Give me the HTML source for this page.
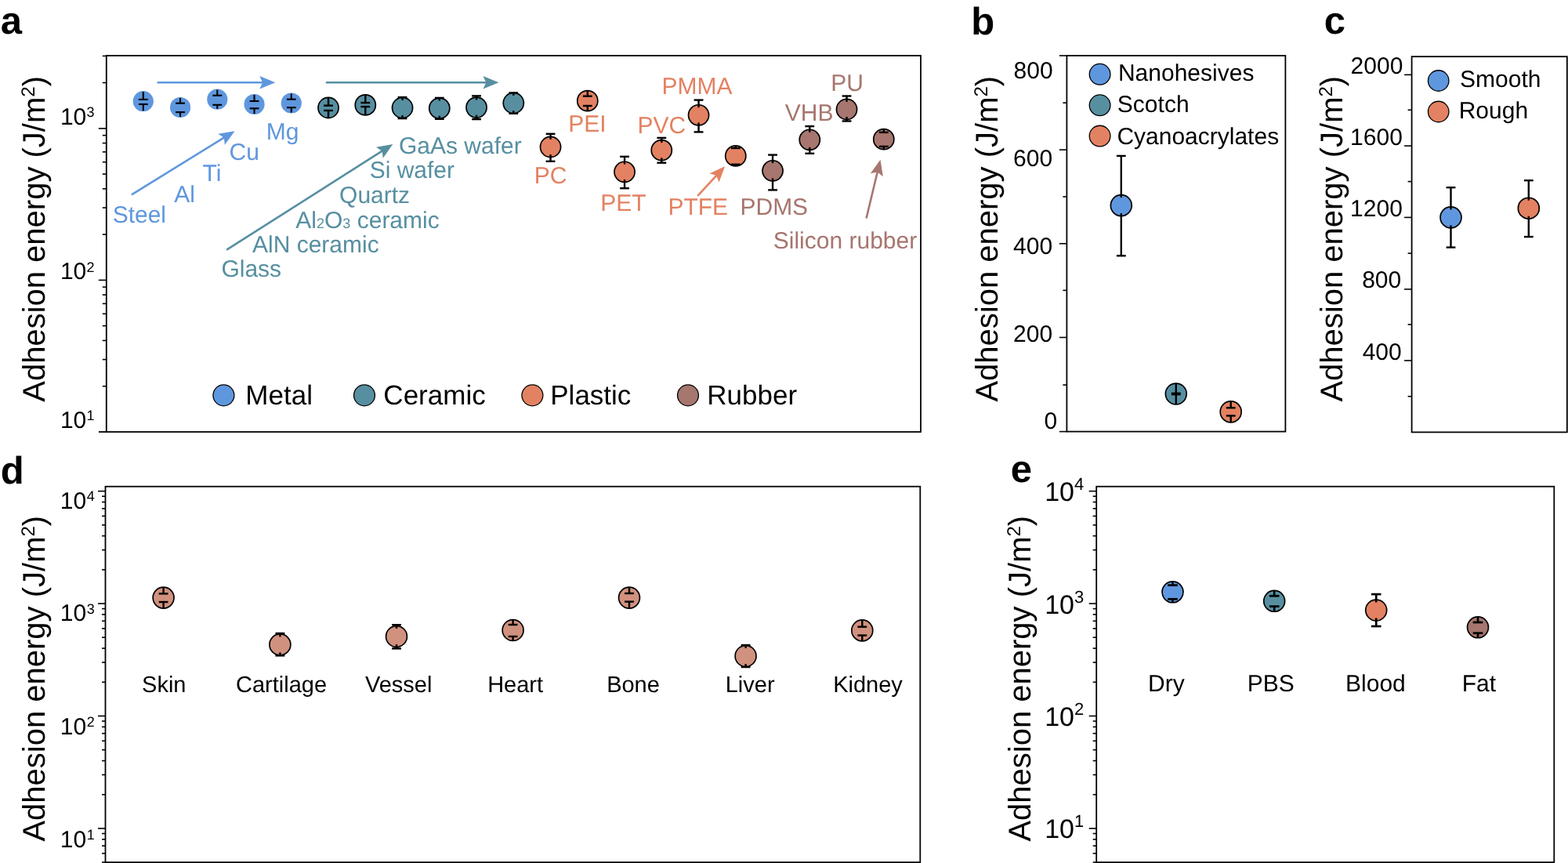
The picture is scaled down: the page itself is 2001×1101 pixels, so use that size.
<!DOCTYPE html>
<html><head><meta charset="utf-8"><style>
html,body{margin:0;padding:0;background:#fff;}
svg{display:block;}
text{font-family:"Liberation Sans",Arial,sans-serif;text-rendering:geometricPrecision;}
</style></head><body>
<svg width="2001" height="1101" viewBox="0 0 2001 1101">
<rect width="2001" height="1101" fill="#fff"/>
<rect x="135.8" y="71" width="1039.2" height="480" fill="none" stroke="#000" stroke-width="1.8"/>
<line x1="125.80" y1="357.40" x2="135.80" y2="357.40" stroke="#000" stroke-width="1.6" stroke-linecap="butt"/>
<line x1="125.80" y1="163.90" x2="135.80" y2="163.90" stroke="#000" stroke-width="1.6" stroke-linecap="butt"/>
<line x1="126.00" y1="551.00" x2="135.80" y2="551.00" stroke="#000" stroke-width="1.8" stroke-linecap="butt"/>
<line x1="130.80" y1="492.72" x2="135.80" y2="492.72" stroke="#000" stroke-width="1.6" stroke-linecap="butt"/>
<line x1="130.80" y1="458.63" x2="135.80" y2="458.63" stroke="#000" stroke-width="1.6" stroke-linecap="butt"/>
<line x1="130.80" y1="434.44" x2="135.80" y2="434.44" stroke="#000" stroke-width="1.6" stroke-linecap="butt"/>
<line x1="130.80" y1="415.68" x2="135.80" y2="415.68" stroke="#000" stroke-width="1.6" stroke-linecap="butt"/>
<line x1="130.80" y1="400.35" x2="135.80" y2="400.35" stroke="#000" stroke-width="1.6" stroke-linecap="butt"/>
<line x1="130.80" y1="387.39" x2="135.80" y2="387.39" stroke="#000" stroke-width="1.6" stroke-linecap="butt"/>
<line x1="130.80" y1="376.16" x2="135.80" y2="376.16" stroke="#000" stroke-width="1.6" stroke-linecap="butt"/>
<line x1="130.80" y1="366.26" x2="135.80" y2="366.26" stroke="#000" stroke-width="1.6" stroke-linecap="butt"/>
<line x1="130.80" y1="299.12" x2="135.80" y2="299.12" stroke="#000" stroke-width="1.6" stroke-linecap="butt"/>
<line x1="130.80" y1="265.03" x2="135.80" y2="265.03" stroke="#000" stroke-width="1.6" stroke-linecap="butt"/>
<line x1="130.80" y1="240.84" x2="135.80" y2="240.84" stroke="#000" stroke-width="1.6" stroke-linecap="butt"/>
<line x1="130.80" y1="222.08" x2="135.80" y2="222.08" stroke="#000" stroke-width="1.6" stroke-linecap="butt"/>
<line x1="130.80" y1="206.75" x2="135.80" y2="206.75" stroke="#000" stroke-width="1.6" stroke-linecap="butt"/>
<line x1="130.80" y1="193.79" x2="135.80" y2="193.79" stroke="#000" stroke-width="1.6" stroke-linecap="butt"/>
<line x1="130.80" y1="182.56" x2="135.80" y2="182.56" stroke="#000" stroke-width="1.6" stroke-linecap="butt"/>
<line x1="130.80" y1="172.66" x2="135.80" y2="172.66" stroke="#000" stroke-width="1.6" stroke-linecap="butt"/>
<line x1="130.80" y1="105.52" x2="135.80" y2="105.52" stroke="#000" stroke-width="1.6" stroke-linecap="butt"/>
<line x1="130.80" y1="71.43" x2="135.80" y2="71.43" stroke="#000" stroke-width="1.6" stroke-linecap="butt"/>
<circle cx="182.80" cy="129.20" r="13.10" fill="#5F97DE"/>
<line x1="182.80" y1="126.90" x2="182.80" y2="117.10" stroke="#000" stroke-width="2.1" stroke-linecap="butt"/>
<line x1="176.90" y1="126.90" x2="188.70" y2="126.90" stroke="#000" stroke-width="2.1" stroke-linecap="butt"/>
<line x1="182.80" y1="133.00" x2="182.80" y2="141.30" stroke="#000" stroke-width="2.1" stroke-linecap="butt"/>
<line x1="176.90" y1="133.00" x2="188.70" y2="133.00" stroke="#000" stroke-width="2.1" stroke-linecap="butt"/>
<circle cx="230.05" cy="137.00" r="13.10" fill="#5F97DE"/>
<line x1="230.05" y1="131.70" x2="230.05" y2="124.90" stroke="#000" stroke-width="2.1" stroke-linecap="butt"/>
<line x1="224.15" y1="131.70" x2="235.95" y2="131.70" stroke="#000" stroke-width="2.1" stroke-linecap="butt"/>
<line x1="230.05" y1="143.10" x2="230.05" y2="149.10" stroke="#000" stroke-width="2.1" stroke-linecap="butt"/>
<line x1="224.15" y1="143.10" x2="235.95" y2="143.10" stroke="#000" stroke-width="2.1" stroke-linecap="butt"/>
<circle cx="277.30" cy="126.70" r="13.10" fill="#5F97DE"/>
<line x1="277.30" y1="121.80" x2="277.30" y2="114.60" stroke="#000" stroke-width="2.1" stroke-linecap="butt"/>
<line x1="271.40" y1="121.80" x2="283.20" y2="121.80" stroke="#000" stroke-width="2.1" stroke-linecap="butt"/>
<line x1="277.30" y1="133.80" x2="277.30" y2="138.80" stroke="#000" stroke-width="2.1" stroke-linecap="butt"/>
<line x1="271.40" y1="133.80" x2="283.20" y2="133.80" stroke="#000" stroke-width="2.1" stroke-linecap="butt"/>
<circle cx="324.55" cy="133.00" r="13.10" fill="#5F97DE"/>
<line x1="324.55" y1="129.00" x2="324.55" y2="120.90" stroke="#000" stroke-width="2.1" stroke-linecap="butt"/>
<line x1="318.65" y1="129.00" x2="330.45" y2="129.00" stroke="#000" stroke-width="2.1" stroke-linecap="butt"/>
<line x1="324.55" y1="138.30" x2="324.55" y2="145.10" stroke="#000" stroke-width="2.1" stroke-linecap="butt"/>
<line x1="318.65" y1="138.30" x2="330.45" y2="138.30" stroke="#000" stroke-width="2.1" stroke-linecap="butt"/>
<circle cx="371.80" cy="131.50" r="13.10" fill="#5F97DE"/>
<line x1="371.80" y1="126.70" x2="371.80" y2="119.40" stroke="#000" stroke-width="2.1" stroke-linecap="butt"/>
<line x1="365.90" y1="126.70" x2="377.70" y2="126.70" stroke="#000" stroke-width="2.1" stroke-linecap="butt"/>
<line x1="371.80" y1="137.20" x2="371.80" y2="143.60" stroke="#000" stroke-width="2.1" stroke-linecap="butt"/>
<line x1="365.90" y1="137.20" x2="377.70" y2="137.20" stroke="#000" stroke-width="2.1" stroke-linecap="butt"/>
<circle cx="419.05" cy="137.50" r="13.05" fill="#578FA1" stroke="#000" stroke-width="1.7"/>
<line x1="419.05" y1="134.70" x2="419.05" y2="124.60" stroke="#000" stroke-width="2.4" stroke-linecap="butt"/>
<line x1="413.15" y1="134.70" x2="424.95" y2="134.70" stroke="#000" stroke-width="2.4" stroke-linecap="butt"/>
<line x1="419.05" y1="141.00" x2="419.05" y2="150.40" stroke="#000" stroke-width="2.4" stroke-linecap="butt"/>
<line x1="413.15" y1="141.00" x2="424.95" y2="141.00" stroke="#000" stroke-width="2.4" stroke-linecap="butt"/>
<circle cx="466.30" cy="133.90" r="13.05" fill="#578FA1" stroke="#000" stroke-width="1.7"/>
<line x1="466.30" y1="131.10" x2="466.30" y2="121.00" stroke="#000" stroke-width="2.4" stroke-linecap="butt"/>
<line x1="460.40" y1="131.10" x2="472.20" y2="131.10" stroke="#000" stroke-width="2.4" stroke-linecap="butt"/>
<line x1="466.30" y1="136.10" x2="466.30" y2="146.80" stroke="#000" stroke-width="2.4" stroke-linecap="butt"/>
<line x1="460.40" y1="136.10" x2="472.20" y2="136.10" stroke="#000" stroke-width="2.4" stroke-linecap="butt"/>
<circle cx="513.55" cy="137.50" r="13.05" fill="#578FA1" stroke="#000" stroke-width="1.7"/>
<line x1="513.55" y1="124.10" x2="513.55" y2="127.90" stroke="#000" stroke-width="2.4" stroke-linecap="butt"/>
<line x1="507.65" y1="124.10" x2="519.45" y2="124.10" stroke="#000" stroke-width="2.4" stroke-linecap="butt"/>
<line x1="513.55" y1="151.10" x2="513.55" y2="147.10" stroke="#000" stroke-width="2.4" stroke-linecap="butt"/>
<line x1="507.65" y1="151.10" x2="519.45" y2="151.10" stroke="#000" stroke-width="2.4" stroke-linecap="butt"/>
<circle cx="560.80" cy="138.10" r="13.05" fill="#578FA1" stroke="#000" stroke-width="1.7"/>
<line x1="560.80" y1="124.90" x2="560.80" y2="128.50" stroke="#000" stroke-width="2.4" stroke-linecap="butt"/>
<line x1="554.90" y1="124.90" x2="566.70" y2="124.90" stroke="#000" stroke-width="2.4" stroke-linecap="butt"/>
<line x1="560.80" y1="151.80" x2="560.80" y2="147.70" stroke="#000" stroke-width="2.4" stroke-linecap="butt"/>
<line x1="554.90" y1="151.80" x2="566.70" y2="151.80" stroke="#000" stroke-width="2.4" stroke-linecap="butt"/>
<circle cx="608.05" cy="137.10" r="13.05" fill="#578FA1" stroke="#000" stroke-width="1.7"/>
<line x1="608.05" y1="122.40" x2="608.05" y2="127.50" stroke="#000" stroke-width="2.4" stroke-linecap="butt"/>
<line x1="602.15" y1="122.40" x2="613.95" y2="122.40" stroke="#000" stroke-width="2.4" stroke-linecap="butt"/>
<line x1="608.05" y1="152.10" x2="608.05" y2="146.70" stroke="#000" stroke-width="2.4" stroke-linecap="butt"/>
<line x1="602.15" y1="152.10" x2="613.95" y2="152.10" stroke="#000" stroke-width="2.4" stroke-linecap="butt"/>
<circle cx="655.30" cy="131.50" r="13.05" fill="#578FA1" stroke="#000" stroke-width="1.7"/>
<line x1="655.30" y1="118.50" x2="655.30" y2="121.90" stroke="#000" stroke-width="2.4" stroke-linecap="butt"/>
<line x1="649.40" y1="118.50" x2="661.20" y2="118.50" stroke="#000" stroke-width="2.4" stroke-linecap="butt"/>
<line x1="655.30" y1="144.80" x2="655.30" y2="141.10" stroke="#000" stroke-width="2.4" stroke-linecap="butt"/>
<line x1="649.40" y1="144.80" x2="661.20" y2="144.80" stroke="#000" stroke-width="2.4" stroke-linecap="butt"/>
<circle cx="702.55" cy="187.50" r="13.05" fill="#E38262" stroke="#000" stroke-width="1.7"/>
<line x1="702.55" y1="170.80" x2="702.55" y2="177.90" stroke="#000" stroke-width="2.4" stroke-linecap="butt"/>
<line x1="696.65" y1="170.80" x2="708.45" y2="170.80" stroke="#000" stroke-width="2.4" stroke-linecap="butt"/>
<line x1="702.55" y1="205.80" x2="702.55" y2="197.10" stroke="#000" stroke-width="2.4" stroke-linecap="butt"/>
<line x1="696.65" y1="205.80" x2="708.45" y2="205.80" stroke="#000" stroke-width="2.4" stroke-linecap="butt"/>
<circle cx="749.80" cy="128.70" r="13.05" fill="#E38262" stroke="#000" stroke-width="1.7"/>
<line x1="749.80" y1="122.70" x2="749.80" y2="115.80" stroke="#000" stroke-width="2.4" stroke-linecap="butt"/>
<line x1="743.90" y1="122.70" x2="755.70" y2="122.70" stroke="#000" stroke-width="2.4" stroke-linecap="butt"/>
<line x1="749.80" y1="135.00" x2="749.80" y2="141.60" stroke="#000" stroke-width="2.4" stroke-linecap="butt"/>
<line x1="743.90" y1="135.00" x2="755.70" y2="135.00" stroke="#000" stroke-width="2.4" stroke-linecap="butt"/>
<circle cx="797.05" cy="219.30" r="13.05" fill="#E38262" stroke="#000" stroke-width="1.7"/>
<line x1="797.05" y1="199.80" x2="797.05" y2="209.70" stroke="#000" stroke-width="2.4" stroke-linecap="butt"/>
<line x1="791.15" y1="199.80" x2="802.95" y2="199.80" stroke="#000" stroke-width="2.4" stroke-linecap="butt"/>
<line x1="797.05" y1="240.20" x2="797.05" y2="228.90" stroke="#000" stroke-width="2.4" stroke-linecap="butt"/>
<line x1="791.15" y1="240.20" x2="802.95" y2="240.20" stroke="#000" stroke-width="2.4" stroke-linecap="butt"/>
<circle cx="844.30" cy="191.70" r="13.05" fill="#E38262" stroke="#000" stroke-width="1.7"/>
<line x1="844.30" y1="175.90" x2="844.30" y2="182.10" stroke="#000" stroke-width="2.4" stroke-linecap="butt"/>
<line x1="838.40" y1="175.90" x2="850.20" y2="175.90" stroke="#000" stroke-width="2.4" stroke-linecap="butt"/>
<line x1="844.30" y1="207.70" x2="844.30" y2="201.30" stroke="#000" stroke-width="2.4" stroke-linecap="butt"/>
<line x1="838.40" y1="207.70" x2="850.20" y2="207.70" stroke="#000" stroke-width="2.4" stroke-linecap="butt"/>
<circle cx="891.55" cy="146.80" r="13.05" fill="#E38262" stroke="#000" stroke-width="1.7"/>
<line x1="891.55" y1="127.60" x2="891.55" y2="137.20" stroke="#000" stroke-width="2.4" stroke-linecap="butt"/>
<line x1="885.65" y1="127.60" x2="897.45" y2="127.60" stroke="#000" stroke-width="2.4" stroke-linecap="butt"/>
<line x1="891.55" y1="168.40" x2="891.55" y2="156.40" stroke="#000" stroke-width="2.4" stroke-linecap="butt"/>
<line x1="885.65" y1="168.40" x2="897.45" y2="168.40" stroke="#000" stroke-width="2.4" stroke-linecap="butt"/>
<circle cx="938.80" cy="198.90" r="13.05" fill="#E38262" stroke="#000" stroke-width="1.7"/>
<line x1="938.80" y1="189.00" x2="938.80" y2="186.00" stroke="#000" stroke-width="2.4" stroke-linecap="butt"/>
<line x1="932.90" y1="189.00" x2="944.70" y2="189.00" stroke="#000" stroke-width="2.4" stroke-linecap="butt"/>
<line x1="938.80" y1="209.80" x2="938.80" y2="211.80" stroke="#000" stroke-width="2.4" stroke-linecap="butt"/>
<line x1="932.90" y1="209.80" x2="944.70" y2="209.80" stroke="#000" stroke-width="2.4" stroke-linecap="butt"/>
<circle cx="986.05" cy="217.80" r="13.05" fill="#A6766F" stroke="#000" stroke-width="1.7"/>
<line x1="986.05" y1="197.60" x2="986.05" y2="208.20" stroke="#000" stroke-width="2.4" stroke-linecap="butt"/>
<line x1="980.15" y1="197.60" x2="991.95" y2="197.60" stroke="#000" stroke-width="2.4" stroke-linecap="butt"/>
<line x1="986.05" y1="242.40" x2="986.05" y2="227.40" stroke="#000" stroke-width="2.4" stroke-linecap="butt"/>
<line x1="980.15" y1="242.40" x2="991.95" y2="242.40" stroke="#000" stroke-width="2.4" stroke-linecap="butt"/>
<circle cx="1033.30" cy="178.30" r="13.05" fill="#A6766F" stroke="#000" stroke-width="1.7"/>
<line x1="1033.30" y1="161.10" x2="1033.30" y2="168.70" stroke="#000" stroke-width="2.4" stroke-linecap="butt"/>
<line x1="1027.40" y1="161.10" x2="1039.20" y2="161.10" stroke="#000" stroke-width="2.4" stroke-linecap="butt"/>
<line x1="1033.30" y1="195.80" x2="1033.30" y2="187.90" stroke="#000" stroke-width="2.4" stroke-linecap="butt"/>
<line x1="1027.40" y1="195.80" x2="1039.20" y2="195.80" stroke="#000" stroke-width="2.4" stroke-linecap="butt"/>
<circle cx="1080.55" cy="139.50" r="13.05" fill="#A6766F" stroke="#000" stroke-width="1.7"/>
<line x1="1080.55" y1="122.50" x2="1080.55" y2="129.90" stroke="#000" stroke-width="2.4" stroke-linecap="butt"/>
<line x1="1074.65" y1="122.50" x2="1086.45" y2="122.50" stroke="#000" stroke-width="2.4" stroke-linecap="butt"/>
<line x1="1080.55" y1="154.50" x2="1080.55" y2="149.10" stroke="#000" stroke-width="2.4" stroke-linecap="butt"/>
<line x1="1074.65" y1="154.50" x2="1086.45" y2="154.50" stroke="#000" stroke-width="2.4" stroke-linecap="butt"/>
<circle cx="1127.80" cy="177.70" r="13.05" fill="#A6766F" stroke="#000" stroke-width="1.7"/>
<line x1="1127.80" y1="168.90" x2="1127.80" y2="164.80" stroke="#000" stroke-width="2.4" stroke-linecap="butt"/>
<line x1="1121.90" y1="168.90" x2="1133.70" y2="168.90" stroke="#000" stroke-width="2.4" stroke-linecap="butt"/>
<line x1="1127.80" y1="186.90" x2="1127.80" y2="190.60" stroke="#000" stroke-width="2.4" stroke-linecap="butt"/>
<line x1="1121.90" y1="186.90" x2="1133.70" y2="186.90" stroke="#000" stroke-width="2.4" stroke-linecap="butt"/>
<line x1="201.70" y1="105.20" x2="335.10" y2="105.20" stroke="#5F97DE" stroke-width="2.6" stroke-linecap="round"/>
<polygon points="351.30,105.20 331.30,113.40 335.10,105.20 331.30,97.00" fill="#5F97DE"/>
<line x1="417.00" y1="105.20" x2="620.30" y2="105.20" stroke="#578FA1" stroke-width="2.6" stroke-linecap="round"/>
<polygon points="636.50,105.20 616.50,113.40 620.30,105.20 616.50,97.00" fill="#578FA1"/>
<line x1="168.80" y1="247.80" x2="285.81" y2="175.70" stroke="#5F97DE" stroke-width="2.6" stroke-linecap="round"/>
<polygon points="299.60,167.20 286.87,184.67 285.81,175.70 278.27,170.71" fill="#5F97DE"/>
<line x1="290.10" y1="318.20" x2="487.63" y2="192.69" stroke="#578FA1" stroke-width="2.6" stroke-linecap="round"/>
<polygon points="501.30,184.00 488.82,201.65 487.63,192.69 480.02,187.81" fill="#578FA1"/>
<line x1="891.00" y1="249.20" x2="914.12" y2="224.11" stroke="#E38262" stroke-width="2.6" stroke-linecap="round"/>
<polygon points="925.10,212.20 917.58,232.46 914.12,224.11 905.52,221.35" fill="#E38262"/>
<line x1="1105.80" y1="277.50" x2="1119.72" y2="219.55" stroke="#A6766F" stroke-width="2.6" stroke-linecap="round"/>
<polygon points="1123.50,203.80 1126.80,225.16 1119.72,219.55 1110.86,221.33" fill="#A6766F"/>
<circle cx="285.40" cy="504.40" r="13.45" fill="#5F97DE" stroke="#000" stroke-width="1.3"/>
<circle cx="465.00" cy="504.40" r="13.45" fill="#578FA1" stroke="#000" stroke-width="1.3"/>
<circle cx="679.40" cy="504.40" r="13.45" fill="#E38262" stroke="#000" stroke-width="1.3"/>
<circle cx="878.00" cy="504.40" r="13.45" fill="#A6766F" stroke="#000" stroke-width="1.3"/>
<rect x="1361.4" y="71" width="279.0" height="479.6" fill="none" stroke="#000" stroke-width="1.8"/>
<line x1="1351.90" y1="71.00" x2="1361.40" y2="71.00" stroke="#000" stroke-width="1.6" stroke-linecap="butt"/>
<line x1="1351.90" y1="191.10" x2="1361.40" y2="191.10" stroke="#000" stroke-width="1.6" stroke-linecap="butt"/>
<line x1="1351.90" y1="310.80" x2="1361.40" y2="310.80" stroke="#000" stroke-width="1.6" stroke-linecap="butt"/>
<line x1="1351.90" y1="430.50" x2="1361.40" y2="430.50" stroke="#000" stroke-width="1.6" stroke-linecap="butt"/>
<line x1="1351.90" y1="550.60" x2="1361.40" y2="550.60" stroke="#000" stroke-width="1.6" stroke-linecap="butt"/>
<line x1="1356.40" y1="131.20" x2="1361.40" y2="131.20" stroke="#000" stroke-width="1.6" stroke-linecap="butt"/>
<line x1="1356.40" y1="251.00" x2="1361.40" y2="251.00" stroke="#000" stroke-width="1.6" stroke-linecap="butt"/>
<line x1="1356.40" y1="370.40" x2="1361.40" y2="370.40" stroke="#000" stroke-width="1.6" stroke-linecap="butt"/>
<line x1="1356.40" y1="491.10" x2="1361.40" y2="491.10" stroke="#000" stroke-width="1.6" stroke-linecap="butt"/>
<circle cx="1403.60" cy="94.80" r="13.35" fill="#5F97DE" stroke="#000" stroke-width="1.3"/>
<circle cx="1403.60" cy="134.30" r="13.35" fill="#578FA1" stroke="#000" stroke-width="1.3"/>
<circle cx="1403.60" cy="173.60" r="13.35" fill="#E38262" stroke="#000" stroke-width="1.3"/>
<circle cx="1430.80" cy="262.10" r="13.45" fill="#5F97DE" stroke="#000" stroke-width="1.7"/>
<line x1="1430.80" y1="198.90" x2="1430.80" y2="252.10" stroke="#000" stroke-width="2.4" stroke-linecap="butt"/>
<line x1="1424.90" y1="198.90" x2="1436.70" y2="198.90" stroke="#000" stroke-width="2.4" stroke-linecap="butt"/>
<line x1="1430.80" y1="326.30" x2="1430.80" y2="272.10" stroke="#000" stroke-width="2.4" stroke-linecap="butt"/>
<line x1="1424.90" y1="326.30" x2="1436.70" y2="326.30" stroke="#000" stroke-width="2.4" stroke-linecap="butt"/>
<circle cx="1500.80" cy="502.50" r="13.45" fill="#578FA1" stroke="#000" stroke-width="1.7"/>
<line x1="1500.80" y1="501.80" x2="1500.80" y2="489.20" stroke="#000" stroke-width="2.4" stroke-linecap="butt"/>
<line x1="1494.90" y1="501.80" x2="1506.70" y2="501.80" stroke="#000" stroke-width="2.4" stroke-linecap="butt"/>
<line x1="1500.80" y1="503.20" x2="1500.80" y2="515.80" stroke="#000" stroke-width="2.4" stroke-linecap="butt"/>
<line x1="1494.90" y1="503.20" x2="1506.70" y2="503.20" stroke="#000" stroke-width="2.4" stroke-linecap="butt"/>
<circle cx="1570.70" cy="525.40" r="13.45" fill="#E38262" stroke="#000" stroke-width="1.7"/>
<line x1="1570.70" y1="520.30" x2="1570.70" y2="512.10" stroke="#000" stroke-width="2.4" stroke-linecap="butt"/>
<line x1="1564.80" y1="520.30" x2="1576.60" y2="520.30" stroke="#000" stroke-width="2.4" stroke-linecap="butt"/>
<line x1="1570.70" y1="530.40" x2="1570.70" y2="538.70" stroke="#000" stroke-width="2.4" stroke-linecap="butt"/>
<line x1="1564.80" y1="530.40" x2="1576.60" y2="530.40" stroke="#000" stroke-width="2.4" stroke-linecap="butt"/>
<rect x="1801.6" y="72.2" width="198.20000000000005" height="479.2" fill="none" stroke="#000" stroke-width="1.8"/>
<line x1="1792.10" y1="95.40" x2="1801.60" y2="95.40" stroke="#000" stroke-width="1.6" stroke-linecap="butt"/>
<line x1="1792.10" y1="186.10" x2="1801.60" y2="186.10" stroke="#000" stroke-width="1.6" stroke-linecap="butt"/>
<line x1="1792.10" y1="277.40" x2="1801.60" y2="277.40" stroke="#000" stroke-width="1.6" stroke-linecap="butt"/>
<line x1="1792.10" y1="369.00" x2="1801.60" y2="369.00" stroke="#000" stroke-width="1.6" stroke-linecap="butt"/>
<line x1="1792.10" y1="460.00" x2="1801.60" y2="460.00" stroke="#000" stroke-width="1.6" stroke-linecap="butt"/>
<line x1="1796.60" y1="140.30" x2="1801.60" y2="140.30" stroke="#000" stroke-width="1.6" stroke-linecap="butt"/>
<line x1="1796.60" y1="231.60" x2="1801.60" y2="231.60" stroke="#000" stroke-width="1.6" stroke-linecap="butt"/>
<line x1="1796.60" y1="323.20" x2="1801.60" y2="323.20" stroke="#000" stroke-width="1.6" stroke-linecap="butt"/>
<line x1="1796.60" y1="414.00" x2="1801.60" y2="414.00" stroke="#000" stroke-width="1.6" stroke-linecap="butt"/>
<line x1="1796.60" y1="505.70" x2="1801.60" y2="505.70" stroke="#000" stroke-width="1.6" stroke-linecap="butt"/>
<circle cx="1835.70" cy="103.00" r="13.25" fill="#5F97DE" stroke="#000" stroke-width="1.3"/>
<circle cx="1835.70" cy="142.50" r="13.25" fill="#E38262" stroke="#000" stroke-width="1.3"/>
<circle cx="1851.50" cy="277.40" r="13.45" fill="#5F97DE" stroke="#000" stroke-width="1.7"/>
<line x1="1851.50" y1="239.20" x2="1851.50" y2="267.40" stroke="#000" stroke-width="2.4" stroke-linecap="butt"/>
<line x1="1845.60" y1="239.20" x2="1857.40" y2="239.20" stroke="#000" stroke-width="2.4" stroke-linecap="butt"/>
<line x1="1851.50" y1="315.60" x2="1851.50" y2="287.40" stroke="#000" stroke-width="2.4" stroke-linecap="butt"/>
<line x1="1845.60" y1="315.60" x2="1857.40" y2="315.60" stroke="#000" stroke-width="2.4" stroke-linecap="butt"/>
<circle cx="1950.80" cy="265.70" r="13.45" fill="#E38262" stroke="#000" stroke-width="1.7"/>
<line x1="1950.80" y1="230.20" x2="1950.80" y2="255.70" stroke="#000" stroke-width="2.4" stroke-linecap="butt"/>
<line x1="1944.90" y1="230.20" x2="1956.70" y2="230.20" stroke="#000" stroke-width="2.4" stroke-linecap="butt"/>
<line x1="1950.80" y1="302.10" x2="1950.80" y2="275.70" stroke="#000" stroke-width="2.4" stroke-linecap="butt"/>
<line x1="1944.90" y1="302.10" x2="1956.70" y2="302.10" stroke="#000" stroke-width="2.4" stroke-linecap="butt"/>
<rect x="134.5" y="620.7" width="1039.8" height="479.39999999999986" fill="none" stroke="#000" stroke-width="1.8"/>
<line x1="125.00" y1="1056.90" x2="134.50" y2="1056.90" stroke="#000" stroke-width="1.6" stroke-linecap="butt"/>
<line x1="125.00" y1="913.47" x2="134.50" y2="913.47" stroke="#000" stroke-width="1.6" stroke-linecap="butt"/>
<line x1="125.00" y1="770.04" x2="134.50" y2="770.04" stroke="#000" stroke-width="1.6" stroke-linecap="butt"/>
<line x1="125.00" y1="626.61" x2="134.50" y2="626.61" stroke="#000" stroke-width="1.6" stroke-linecap="butt"/>
<line x1="130.00" y1="1100.08" x2="134.50" y2="1100.08" stroke="#000" stroke-width="1.6" stroke-linecap="butt"/>
<line x1="130.00" y1="1088.72" x2="134.50" y2="1088.72" stroke="#000" stroke-width="1.6" stroke-linecap="butt"/>
<line x1="130.00" y1="1079.12" x2="134.50" y2="1079.12" stroke="#000" stroke-width="1.6" stroke-linecap="butt"/>
<line x1="130.00" y1="1070.80" x2="134.50" y2="1070.80" stroke="#000" stroke-width="1.6" stroke-linecap="butt"/>
<line x1="130.00" y1="1063.46" x2="134.50" y2="1063.46" stroke="#000" stroke-width="1.6" stroke-linecap="butt"/>
<line x1="130.00" y1="1013.72" x2="134.50" y2="1013.72" stroke="#000" stroke-width="1.6" stroke-linecap="butt"/>
<line x1="130.00" y1="988.47" x2="134.50" y2="988.47" stroke="#000" stroke-width="1.6" stroke-linecap="butt"/>
<line x1="130.00" y1="970.55" x2="134.50" y2="970.55" stroke="#000" stroke-width="1.6" stroke-linecap="butt"/>
<line x1="130.00" y1="956.65" x2="134.50" y2="956.65" stroke="#000" stroke-width="1.6" stroke-linecap="butt"/>
<line x1="130.00" y1="945.29" x2="134.50" y2="945.29" stroke="#000" stroke-width="1.6" stroke-linecap="butt"/>
<line x1="130.00" y1="935.69" x2="134.50" y2="935.69" stroke="#000" stroke-width="1.6" stroke-linecap="butt"/>
<line x1="130.00" y1="927.37" x2="134.50" y2="927.37" stroke="#000" stroke-width="1.6" stroke-linecap="butt"/>
<line x1="130.00" y1="920.03" x2="134.50" y2="920.03" stroke="#000" stroke-width="1.6" stroke-linecap="butt"/>
<line x1="130.00" y1="870.29" x2="134.50" y2="870.29" stroke="#000" stroke-width="1.6" stroke-linecap="butt"/>
<line x1="130.00" y1="845.04" x2="134.50" y2="845.04" stroke="#000" stroke-width="1.6" stroke-linecap="butt"/>
<line x1="130.00" y1="827.12" x2="134.50" y2="827.12" stroke="#000" stroke-width="1.6" stroke-linecap="butt"/>
<line x1="130.00" y1="813.22" x2="134.50" y2="813.22" stroke="#000" stroke-width="1.6" stroke-linecap="butt"/>
<line x1="130.00" y1="801.86" x2="134.50" y2="801.86" stroke="#000" stroke-width="1.6" stroke-linecap="butt"/>
<line x1="130.00" y1="792.26" x2="134.50" y2="792.26" stroke="#000" stroke-width="1.6" stroke-linecap="butt"/>
<line x1="130.00" y1="783.94" x2="134.50" y2="783.94" stroke="#000" stroke-width="1.6" stroke-linecap="butt"/>
<line x1="130.00" y1="776.60" x2="134.50" y2="776.60" stroke="#000" stroke-width="1.6" stroke-linecap="butt"/>
<line x1="130.00" y1="726.86" x2="134.50" y2="726.86" stroke="#000" stroke-width="1.6" stroke-linecap="butt"/>
<line x1="130.00" y1="701.61" x2="134.50" y2="701.61" stroke="#000" stroke-width="1.6" stroke-linecap="butt"/>
<line x1="130.00" y1="683.69" x2="134.50" y2="683.69" stroke="#000" stroke-width="1.6" stroke-linecap="butt"/>
<line x1="130.00" y1="669.79" x2="134.50" y2="669.79" stroke="#000" stroke-width="1.6" stroke-linecap="butt"/>
<line x1="130.00" y1="658.43" x2="134.50" y2="658.43" stroke="#000" stroke-width="1.6" stroke-linecap="butt"/>
<line x1="130.00" y1="648.83" x2="134.50" y2="648.83" stroke="#000" stroke-width="1.6" stroke-linecap="butt"/>
<line x1="130.00" y1="640.51" x2="134.50" y2="640.51" stroke="#000" stroke-width="1.6" stroke-linecap="butt"/>
<line x1="130.00" y1="633.17" x2="134.50" y2="633.17" stroke="#000" stroke-width="1.6" stroke-linecap="butt"/>
<circle cx="208.60" cy="762.60" r="13.45" fill="#D0917E" stroke="#000" stroke-width="1.7"/>
<line x1="208.60" y1="757.40" x2="208.60" y2="749.30" stroke="#000" stroke-width="2.4" stroke-linecap="butt"/>
<line x1="202.70" y1="757.40" x2="214.50" y2="757.40" stroke="#000" stroke-width="2.4" stroke-linecap="butt"/>
<line x1="208.60" y1="768.00" x2="208.60" y2="775.90" stroke="#000" stroke-width="2.4" stroke-linecap="butt"/>
<line x1="202.70" y1="768.00" x2="214.50" y2="768.00" stroke="#000" stroke-width="2.4" stroke-linecap="butt"/>
<circle cx="357.40" cy="822.40" r="13.45" fill="#D0917E" stroke="#000" stroke-width="1.7"/>
<line x1="357.40" y1="808.00" x2="357.40" y2="812.40" stroke="#000" stroke-width="2.4" stroke-linecap="butt"/>
<line x1="351.50" y1="808.00" x2="363.30" y2="808.00" stroke="#000" stroke-width="2.4" stroke-linecap="butt"/>
<line x1="357.40" y1="836.40" x2="357.40" y2="832.40" stroke="#000" stroke-width="2.4" stroke-linecap="butt"/>
<line x1="351.50" y1="836.40" x2="363.30" y2="836.40" stroke="#000" stroke-width="2.4" stroke-linecap="butt"/>
<circle cx="506.00" cy="812.00" r="13.45" fill="#D0917E" stroke="#000" stroke-width="1.7"/>
<line x1="506.00" y1="797.20" x2="506.00" y2="802.00" stroke="#000" stroke-width="2.4" stroke-linecap="butt"/>
<line x1="500.10" y1="797.20" x2="511.90" y2="797.20" stroke="#000" stroke-width="2.4" stroke-linecap="butt"/>
<line x1="506.00" y1="827.40" x2="506.00" y2="822.00" stroke="#000" stroke-width="2.4" stroke-linecap="butt"/>
<line x1="500.10" y1="827.40" x2="511.90" y2="827.40" stroke="#000" stroke-width="2.4" stroke-linecap="butt"/>
<circle cx="654.60" cy="804.00" r="13.45" fill="#D0917E" stroke="#000" stroke-width="1.7"/>
<line x1="654.60" y1="797.00" x2="654.60" y2="790.70" stroke="#000" stroke-width="2.4" stroke-linecap="butt"/>
<line x1="648.70" y1="797.00" x2="660.50" y2="797.00" stroke="#000" stroke-width="2.4" stroke-linecap="butt"/>
<line x1="654.60" y1="812.00" x2="654.60" y2="817.30" stroke="#000" stroke-width="2.4" stroke-linecap="butt"/>
<line x1="648.70" y1="812.00" x2="660.50" y2="812.00" stroke="#000" stroke-width="2.4" stroke-linecap="butt"/>
<circle cx="803.00" cy="762.60" r="13.45" fill="#D0917E" stroke="#000" stroke-width="1.7"/>
<line x1="803.00" y1="757.00" x2="803.00" y2="749.30" stroke="#000" stroke-width="2.4" stroke-linecap="butt"/>
<line x1="797.10" y1="757.00" x2="808.90" y2="757.00" stroke="#000" stroke-width="2.4" stroke-linecap="butt"/>
<line x1="803.00" y1="767.60" x2="803.00" y2="775.90" stroke="#000" stroke-width="2.4" stroke-linecap="butt"/>
<line x1="797.10" y1="767.60" x2="808.90" y2="767.60" stroke="#000" stroke-width="2.4" stroke-linecap="butt"/>
<circle cx="951.60" cy="837.00" r="13.45" fill="#D0917E" stroke="#000" stroke-width="1.7"/>
<line x1="951.60" y1="823.00" x2="951.60" y2="827.00" stroke="#000" stroke-width="2.4" stroke-linecap="butt"/>
<line x1="945.70" y1="823.00" x2="957.50" y2="823.00" stroke="#000" stroke-width="2.4" stroke-linecap="butt"/>
<line x1="951.60" y1="851.00" x2="951.60" y2="847.00" stroke="#000" stroke-width="2.4" stroke-linecap="butt"/>
<line x1="945.70" y1="851.00" x2="957.50" y2="851.00" stroke="#000" stroke-width="2.4" stroke-linecap="butt"/>
<circle cx="1100.30" cy="804.40" r="13.45" fill="#D0917E" stroke="#000" stroke-width="1.7"/>
<line x1="1100.30" y1="799.70" x2="1100.30" y2="791.10" stroke="#000" stroke-width="2.4" stroke-linecap="butt"/>
<line x1="1094.40" y1="799.70" x2="1106.20" y2="799.70" stroke="#000" stroke-width="2.4" stroke-linecap="butt"/>
<line x1="1100.30" y1="810.60" x2="1100.30" y2="817.70" stroke="#000" stroke-width="2.4" stroke-linecap="butt"/>
<line x1="1094.40" y1="810.60" x2="1106.20" y2="810.60" stroke="#000" stroke-width="2.4" stroke-linecap="butt"/>
<rect x="1399.2" y="620.7" width="584.0999999999999" height="479.39999999999986" fill="none" stroke="#000" stroke-width="1.8"/>
<line x1="1389.70" y1="1056.90" x2="1399.20" y2="1056.90" stroke="#000" stroke-width="1.6" stroke-linecap="butt"/>
<line x1="1389.70" y1="913.47" x2="1399.20" y2="913.47" stroke="#000" stroke-width="1.6" stroke-linecap="butt"/>
<line x1="1389.70" y1="770.04" x2="1399.20" y2="770.04" stroke="#000" stroke-width="1.6" stroke-linecap="butt"/>
<line x1="1389.70" y1="626.61" x2="1399.20" y2="626.61" stroke="#000" stroke-width="1.6" stroke-linecap="butt"/>
<line x1="1394.70" y1="1100.08" x2="1399.20" y2="1100.08" stroke="#000" stroke-width="1.6" stroke-linecap="butt"/>
<line x1="1394.70" y1="1088.72" x2="1399.20" y2="1088.72" stroke="#000" stroke-width="1.6" stroke-linecap="butt"/>
<line x1="1394.70" y1="1079.12" x2="1399.20" y2="1079.12" stroke="#000" stroke-width="1.6" stroke-linecap="butt"/>
<line x1="1394.70" y1="1070.80" x2="1399.20" y2="1070.80" stroke="#000" stroke-width="1.6" stroke-linecap="butt"/>
<line x1="1394.70" y1="1063.46" x2="1399.20" y2="1063.46" stroke="#000" stroke-width="1.6" stroke-linecap="butt"/>
<line x1="1394.70" y1="1013.72" x2="1399.20" y2="1013.72" stroke="#000" stroke-width="1.6" stroke-linecap="butt"/>
<line x1="1394.70" y1="988.47" x2="1399.20" y2="988.47" stroke="#000" stroke-width="1.6" stroke-linecap="butt"/>
<line x1="1394.70" y1="970.55" x2="1399.20" y2="970.55" stroke="#000" stroke-width="1.6" stroke-linecap="butt"/>
<line x1="1394.70" y1="956.65" x2="1399.20" y2="956.65" stroke="#000" stroke-width="1.6" stroke-linecap="butt"/>
<line x1="1394.70" y1="945.29" x2="1399.20" y2="945.29" stroke="#000" stroke-width="1.6" stroke-linecap="butt"/>
<line x1="1394.70" y1="935.69" x2="1399.20" y2="935.69" stroke="#000" stroke-width="1.6" stroke-linecap="butt"/>
<line x1="1394.70" y1="927.37" x2="1399.20" y2="927.37" stroke="#000" stroke-width="1.6" stroke-linecap="butt"/>
<line x1="1394.70" y1="920.03" x2="1399.20" y2="920.03" stroke="#000" stroke-width="1.6" stroke-linecap="butt"/>
<line x1="1394.70" y1="870.29" x2="1399.20" y2="870.29" stroke="#000" stroke-width="1.6" stroke-linecap="butt"/>
<line x1="1394.70" y1="845.04" x2="1399.20" y2="845.04" stroke="#000" stroke-width="1.6" stroke-linecap="butt"/>
<line x1="1394.70" y1="827.12" x2="1399.20" y2="827.12" stroke="#000" stroke-width="1.6" stroke-linecap="butt"/>
<line x1="1394.70" y1="813.22" x2="1399.20" y2="813.22" stroke="#000" stroke-width="1.6" stroke-linecap="butt"/>
<line x1="1394.70" y1="801.86" x2="1399.20" y2="801.86" stroke="#000" stroke-width="1.6" stroke-linecap="butt"/>
<line x1="1394.70" y1="792.26" x2="1399.20" y2="792.26" stroke="#000" stroke-width="1.6" stroke-linecap="butt"/>
<line x1="1394.70" y1="783.94" x2="1399.20" y2="783.94" stroke="#000" stroke-width="1.6" stroke-linecap="butt"/>
<line x1="1394.70" y1="776.60" x2="1399.20" y2="776.60" stroke="#000" stroke-width="1.6" stroke-linecap="butt"/>
<line x1="1394.70" y1="726.86" x2="1399.20" y2="726.86" stroke="#000" stroke-width="1.6" stroke-linecap="butt"/>
<line x1="1394.70" y1="701.61" x2="1399.20" y2="701.61" stroke="#000" stroke-width="1.6" stroke-linecap="butt"/>
<line x1="1394.70" y1="683.69" x2="1399.20" y2="683.69" stroke="#000" stroke-width="1.6" stroke-linecap="butt"/>
<line x1="1394.70" y1="669.79" x2="1399.20" y2="669.79" stroke="#000" stroke-width="1.6" stroke-linecap="butt"/>
<line x1="1394.70" y1="658.43" x2="1399.20" y2="658.43" stroke="#000" stroke-width="1.6" stroke-linecap="butt"/>
<line x1="1394.70" y1="648.83" x2="1399.20" y2="648.83" stroke="#000" stroke-width="1.6" stroke-linecap="butt"/>
<line x1="1394.70" y1="640.51" x2="1399.20" y2="640.51" stroke="#000" stroke-width="1.6" stroke-linecap="butt"/>
<line x1="1394.70" y1="633.17" x2="1399.20" y2="633.17" stroke="#000" stroke-width="1.6" stroke-linecap="butt"/>
<circle cx="1496.50" cy="755.30" r="13.45" fill="#5F97DE" stroke="#000" stroke-width="1.7"/>
<line x1="1496.50" y1="746.60" x2="1496.50" y2="742.00" stroke="#000" stroke-width="2.7" stroke-linecap="butt"/>
<line x1="1490.20" y1="746.60" x2="1502.80" y2="746.60" stroke="#000" stroke-width="2.7" stroke-linecap="butt"/>
<line x1="1496.50" y1="764.30" x2="1496.50" y2="768.60" stroke="#000" stroke-width="2.7" stroke-linecap="butt"/>
<line x1="1490.20" y1="764.30" x2="1502.80" y2="764.30" stroke="#000" stroke-width="2.7" stroke-linecap="butt"/>
<circle cx="1626.20" cy="766.80" r="13.45" fill="#578FA1" stroke="#000" stroke-width="1.7"/>
<line x1="1626.20" y1="760.30" x2="1626.20" y2="753.50" stroke="#000" stroke-width="2.7" stroke-linecap="butt"/>
<line x1="1619.90" y1="760.30" x2="1632.50" y2="760.30" stroke="#000" stroke-width="2.7" stroke-linecap="butt"/>
<line x1="1626.20" y1="773.60" x2="1626.20" y2="780.10" stroke="#000" stroke-width="2.7" stroke-linecap="butt"/>
<line x1="1619.90" y1="773.60" x2="1632.50" y2="773.60" stroke="#000" stroke-width="2.7" stroke-linecap="butt"/>
<circle cx="1756.20" cy="778.50" r="13.45" fill="#E38262" stroke="#000" stroke-width="1.7"/>
<line x1="1756.20" y1="758.10" x2="1756.20" y2="768.50" stroke="#000" stroke-width="2.7" stroke-linecap="butt"/>
<line x1="1749.90" y1="758.10" x2="1762.50" y2="758.10" stroke="#000" stroke-width="2.7" stroke-linecap="butt"/>
<line x1="1756.20" y1="799.00" x2="1756.20" y2="788.50" stroke="#000" stroke-width="2.7" stroke-linecap="butt"/>
<line x1="1749.90" y1="799.00" x2="1762.50" y2="799.00" stroke="#000" stroke-width="2.7" stroke-linecap="butt"/>
<circle cx="1886.00" cy="800.30" r="13.45" fill="#A6766F" stroke="#000" stroke-width="1.7"/>
<line x1="1886.00" y1="794.00" x2="1886.00" y2="787.00" stroke="#000" stroke-width="2.7" stroke-linecap="butt"/>
<line x1="1879.70" y1="794.00" x2="1892.30" y2="794.00" stroke="#000" stroke-width="2.7" stroke-linecap="butt"/>
<line x1="1886.00" y1="807.70" x2="1886.00" y2="813.60" stroke="#000" stroke-width="2.7" stroke-linecap="butt"/>
<line x1="1879.70" y1="807.70" x2="1892.30" y2="807.70" stroke="#000" stroke-width="2.7" stroke-linecap="butt"/>
<text x="143.66" y="283.50" font-size="30" fill="#5F97DE">Steel</text>
<text x="222.20" y="257.80" font-size="30" fill="#5F97DE">Al</text>
<text x="258.53" y="230.50" font-size="30" fill="#5F97DE">Ti</text>
<text x="292.49" y="204.00" font-size="30" fill="#5F97DE">Cu</text>
<text x="339.66" y="177.70" font-size="30" fill="#5F97DE">Mg</text>
<text x="282.39" y="353.00" font-size="30" fill="#578FA1">Glass</text>
<text x="322.00" y="321.80" font-size="30" fill="#578FA1">AlN ceramic</text>
<text x="433.09" y="259.00" font-size="30" fill="#578FA1">Quartz</text>
<text x="471.66" y="227.20" font-size="30" fill="#578FA1">Si wafer</text>
<text x="508.99" y="196.00" font-size="30" fill="#578FA1">GaAs wafer</text>
<text x="681.66" y="234.30" font-size="30" fill="#E38262">PC</text>
<text x="725.16" y="168.10" font-size="30" fill="#E38262">PEI</text>
<text x="766.26" y="268.90" font-size="30" fill="#E38262">PET</text>
<text x="813.46" y="169.50" font-size="30" fill="#E38262">PVC</text>
<text x="844.41" y="120.00" font-size="30" fill="#E38262">PMMA</text>
<text x="852.46" y="274.30" font-size="30" fill="#E38262">PTFE</text>
<text x="944.46" y="274.10" font-size="30" fill="#A6766F">PDMS</text>
<text x="1001.80" y="153.80" font-size="30" fill="#A6766F">VHB</text>
<text x="1060.26" y="115.90" font-size="30" fill="#A6766F">PU</text>
<text x="986.76" y="316.60" font-size="30" fill="#A6766F">Silicon rubber</text>
<text x="313.37" y="515.90" font-size="35" fill="#000">Metal</text>
<text x="489.36" y="515.90" font-size="35" fill="#000">Ceramic</text>
<text x="702.27" y="515.90" font-size="35" fill="#000">Plastic</text>
<text x="902.27" y="515.90" font-size="35" fill="#000">Rubber</text>
<text x="76.90" y="158.80" font-size="30" fill="#000">10</text>
<text x="110.60" y="149.00" font-size="18" fill="#000">3</text>
<text x="76.90" y="356.40" font-size="30" fill="#000">10</text>
<text x="110.60" y="346.60" font-size="18" fill="#000">2</text>
<text x="76.90" y="545.60" font-size="30" fill="#000">10</text>
<text x="110.60" y="535.90" font-size="18" fill="#000">1</text>
<text x="1293.56" y="100.10" font-size="30" fill="#000">800</text>
<text x="1293.09" y="211.60" font-size="30" fill="#000">600</text>
<text x="1293.03" y="324.00" font-size="30" fill="#000">400</text>
<text x="1293.09" y="436.30" font-size="30" fill="#000">200</text>
<text x="1332.56" y="547.20" font-size="30" fill="#000">0</text>
<text x="1426.96" y="103.40" font-size="30" fill="#000">Nanohesives</text>
<text x="1425.86" y="143.40" font-size="30" fill="#000">Scotch</text>
<text x="1425.39" y="183.90" font-size="30" fill="#000">Cyanoacrylates</text>
<text x="1723.59" y="94.30" font-size="30" fill="#000">2000</text>
<text x="1723.12" y="185.00" font-size="30" fill="#000">1600</text>
<text x="1723.12" y="276.30" font-size="30" fill="#000">1200</text>
<text x="1738.16" y="367.40" font-size="30" fill="#000">800</text>
<text x="1738.63" y="458.90" font-size="30" fill="#000">400</text>
<text x="1863.06" y="111.20" font-size="30" fill="#000">Smooth</text>
<text x="1861.66" y="151.20" font-size="30" fill="#000">Rough</text>
<text x="76.80" y="648.60" font-size="30" fill="#000">10</text>
<text x="110.70" y="638.80" font-size="18" fill="#000">4</text>
<text x="76.80" y="792.40" font-size="30" fill="#000">10</text>
<text x="110.70" y="782.60" font-size="18" fill="#000">3</text>
<text x="76.80" y="936.50" font-size="30" fill="#000">10</text>
<text x="110.70" y="926.70" font-size="18" fill="#000">2</text>
<text x="76.80" y="1080.80" font-size="30" fill="#000">10</text>
<text x="110.70" y="1071.00" font-size="18" fill="#000">1</text>
<text x="181.09" y="883.00" font-size="29" fill="#000">Skin</text>
<text x="301.04" y="883.00" font-size="29" fill="#000">Cartilage</text>
<text x="466.00" y="883.00" font-size="29" fill="#000">Vessel</text>
<text x="622.13" y="883.00" font-size="29" fill="#000">Heart</text>
<text x="774.13" y="883.00" font-size="29" fill="#000">Bone</text>
<text x="925.73" y="883.00" font-size="29" fill="#000">Liver</text>
<text x="1063.13" y="883.00" font-size="29" fill="#000">Kidney</text>
<text x="1333.20" y="639.30" font-size="34" fill="#000">10</text>
<text x="1371.00" y="625.30" font-size="22" fill="#000">4</text>
<text x="1333.20" y="782.80" font-size="34" fill="#000">10</text>
<text x="1371.00" y="768.80" font-size="22" fill="#000">3</text>
<text x="1333.20" y="926.10" font-size="34" fill="#000">10</text>
<text x="1371.00" y="912.10" font-size="22" fill="#000">2</text>
<text x="1333.20" y="1069.40" font-size="34" fill="#000">10</text>
<text x="1371.00" y="1055.40" font-size="22" fill="#000">1</text>
<text x="1465.06" y="881.90" font-size="30" fill="#000">Dry</text>
<text x="1591.66" y="881.90" font-size="30" fill="#000">PBS</text>
<text x="1717.06" y="881.90" font-size="30" fill="#000">Blood</text>
<text x="1865.66" y="881.90" font-size="30" fill="#000">Fat</text>
<text x="0.83" y="42.80" font-size="49" fill="#000" font-weight="bold">a</text>
<text x="1239.24" y="43.60" font-size="49" fill="#000" font-weight="bold">b</text>
<text x="1689.77" y="43.20" font-size="49" fill="#000" font-weight="bold">c</text>
<text x="0.67" y="617.30" font-size="49" fill="#000" font-weight="bold">d</text>
<text x="1289.77" y="615.40" font-size="49" fill="#000" font-weight="bold">e</text>
<text x="377.30" y="290.80" fill="#578FA1"><tspan font-size="30" dy="0">Al</tspan><tspan font-size="18" dy="0">2</tspan><tspan font-size="30" dy="0">O</tspan><tspan font-size="18" dy="0">3</tspan><tspan font-size="30" dy="0"> ceramic</tspan></text>
<text transform="translate(56.90,512.80) rotate(-90)" x="0" y="0" font-size="40">Adhesion energy (J/m<tspan font-size="24" dy="-13">2</tspan><tspan dy="13">)</tspan></text>
<text transform="translate(1272.70,512.60) rotate(-90)" x="0" y="0" font-size="40">Adhesion energy (J/m<tspan font-size="24" dy="-13">2</tspan><tspan dy="13">)</tspan></text>
<text transform="translate(1712.90,512.60) rotate(-90)" x="0" y="0" font-size="40">Adhesion energy (J/m<tspan font-size="24" dy="-13">2</tspan><tspan dy="13">)</tspan></text>
<text transform="translate(56.90,1073.60) rotate(-90)" x="0" y="0" font-size="40">Adhesion energy (J/m<tspan font-size="24" dy="-13">2</tspan><tspan dy="13">)</tspan></text>
<text transform="translate(1315.20,1073.60) rotate(-90)" x="0" y="0" font-size="40">Adhesion energy (J/m<tspan font-size="24" dy="-13">2</tspan><tspan dy="13">)</tspan></text>
</svg></body></html>
